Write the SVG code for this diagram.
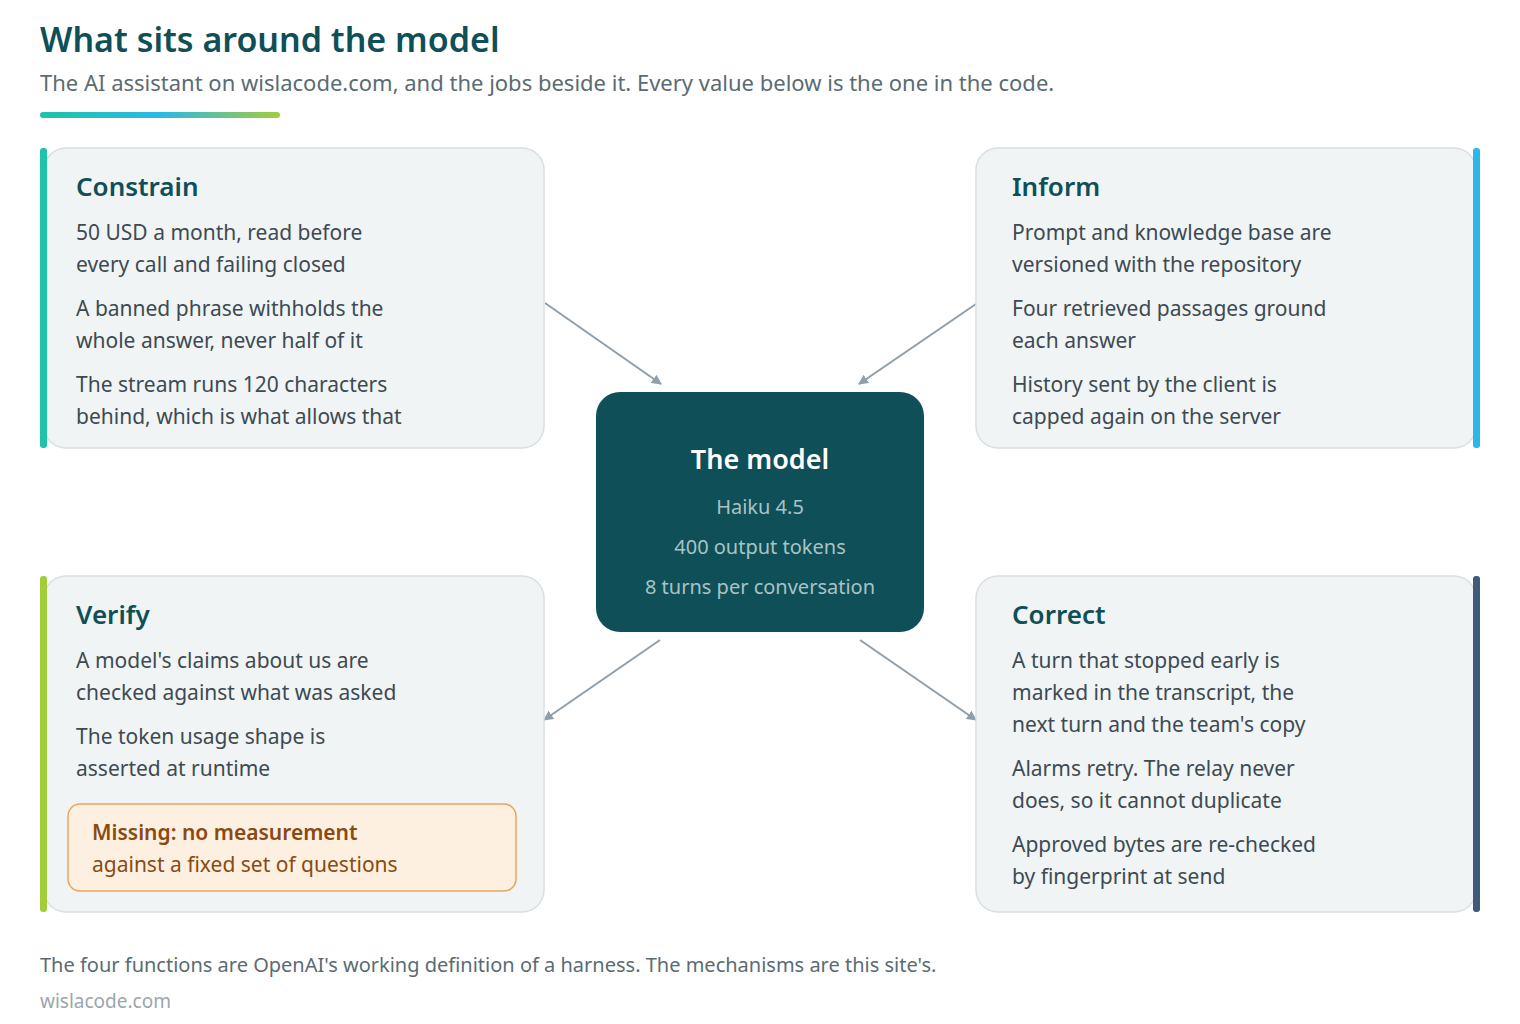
<svg xmlns="http://www.w3.org/2000/svg" width="1520" height="1024" viewBox="0 0 1520 1024">
<style>
text{font-family:"Noto Sans","Open Sans",sans-serif}
.card{fill:#f0f4f5;stroke:#d8e0e3;stroke-width:1.5}
.h{font-size:26px;font-weight:600;fill:#0f4f57}
.t{font-size:21px;fill:#3d4a52}
.c{stroke:#8f9ea9;stroke-width:2;fill:none;marker-end:url(#ah)}
</style>
<defs>
<linearGradient id="g" x1="0" x2="1"><stop offset="0" stop-color="#1fc3a8"/><stop offset="0.5" stop-color="#2bb8e6"/><stop offset="1" stop-color="#a3cc3a"/></linearGradient>
<marker id="ah" viewBox="0 0 10 10" refX="9" refY="5" markerWidth="10" markerHeight="10" markerUnits="userSpaceOnUse" orient="auto"><path d="M0,0L10,5L0,10z" fill="#8f9ea9"/></marker>
</defs>
<rect width="1520" height="1024" fill="#fff"/>
<text x="40" y="52" style="font-size:34px;font-weight:600;fill:#0f4f57">What sits around the model</text>
<text x="40" y="91" style="font-size:22px;fill:#5b6b73">The AI assistant on wislacode.com, and the jobs beside it. Every value below is the one in the code.</text>
<rect x="40" y="112" width="240" height="6" rx="3" fill="url(#g)"/>
<g id="connectors">
<path class="c" d="M545,303L661,384"/>
<path class="c" d="M976,304L859,384"/>
<path class="c" d="M660,640L544,720"/>
<path class="c" d="M860,640L976,720"/>
</g>
<g id="constrain">
<rect class="card" x="44" y="148" width="500" height="300" rx="22"/>
<rect x="40" y="148" width="7" height="300" rx="3" fill="#1fc3a8"/>
<text class="h" x="76" y="196">Constrain</text>
<text class="t" x="76" y="240">50 USD a month, read before</text>
<text class="t" x="76" y="272">every call and failing closed</text>
<text class="t" x="76" y="316">A banned phrase withholds the</text>
<text class="t" x="76" y="348">whole answer, never half of it</text>
<text class="t" x="76" y="392">The stream runs 120 characters</text>
<text class="t" x="76" y="424">behind, which is what allows that</text>
</g>
<g id="inform">
<rect class="card" x="976" y="148" width="500" height="300" rx="22"/>
<rect x="1473" y="148" width="7" height="300" rx="3" fill="#2bb8e6"/>
<text class="h" x="1012" y="196">Inform</text>
<text class="t" x="1012" y="240">Prompt and knowledge base are</text>
<text class="t" x="1012" y="272">versioned with the repository</text>
<text class="t" x="1012" y="316">Four retrieved passages ground</text>
<text class="t" x="1012" y="348">each answer</text>
<text class="t" x="1012" y="392">History sent by the client is</text>
<text class="t" x="1012" y="424">capped again on the server</text>
</g>
<g id="model">
<rect x="596" y="392" width="328" height="240" rx="24" fill="#0f4f57"/>
<text x="760" y="469" text-anchor="middle" style="font-size:27px;font-weight:600;fill:#fff">The model</text>
<text x="760" y="514" text-anchor="middle" style="font-size:20px;fill:#a9c3c6">Haiku 4.5</text>
<text x="760" y="554" text-anchor="middle" style="font-size:20px;fill:#a9c3c6">400 output tokens</text>
<text x="760" y="594" text-anchor="middle" style="font-size:20px;fill:#a9c3c6">8 turns per conversation</text>
</g>
<g id="verify">
<rect class="card" x="44" y="576" width="500" height="336" rx="22"/>
<rect x="40" y="576" width="7" height="336" rx="3" fill="#a3cc3a"/>
<text class="h" x="76" y="624">Verify</text>
<text class="t" x="76" y="668">A model's claims about us are</text>
<text class="t" x="76" y="700">checked against what was asked</text>
<text class="t" x="76" y="744">The token usage shape is</text>
<text class="t" x="76" y="776">asserted at runtime</text>
<rect x="68" y="804" width="448" height="87" rx="12" fill="#fdf0e1" stroke="#eba55a" stroke-width="1.5"/>
<text x="92" y="840" style="font-size:21px;font-weight:600;fill:#8a4a12">Missing: no measurement</text>
<text x="92" y="872" style="font-size:21px;fill:#8a4a12">against a fixed set of questions</text>
</g>
<g id="correct">
<rect class="card" x="976" y="576" width="500" height="336" rx="22"/>
<rect x="1473" y="576" width="7" height="336" rx="3" fill="#3f5a7c"/>
<text class="h" x="1012" y="624">Correct</text>
<text class="t" x="1012" y="668">A turn that stopped early is</text>
<text class="t" x="1012" y="700">marked in the transcript, the</text>
<text class="t" x="1012" y="732">next turn and the team's copy</text>
<text class="t" x="1012" y="776">Alarms retry. The relay never</text>
<text class="t" x="1012" y="808">does, so it cannot duplicate</text>
<text class="t" x="1012" y="852">Approved bytes are re-checked</text>
<text class="t" x="1012" y="884">by fingerprint at send</text>
</g>
<text x="40" y="972" style="font-size:20px;fill:#5b6b73">The four functions are OpenAI's working definition of a harness. The mechanisms are this site's.</text>
<text x="40" y="1008" style="font-size:19px;fill:#9aa6ad">wislacode.com</text>
</svg>
